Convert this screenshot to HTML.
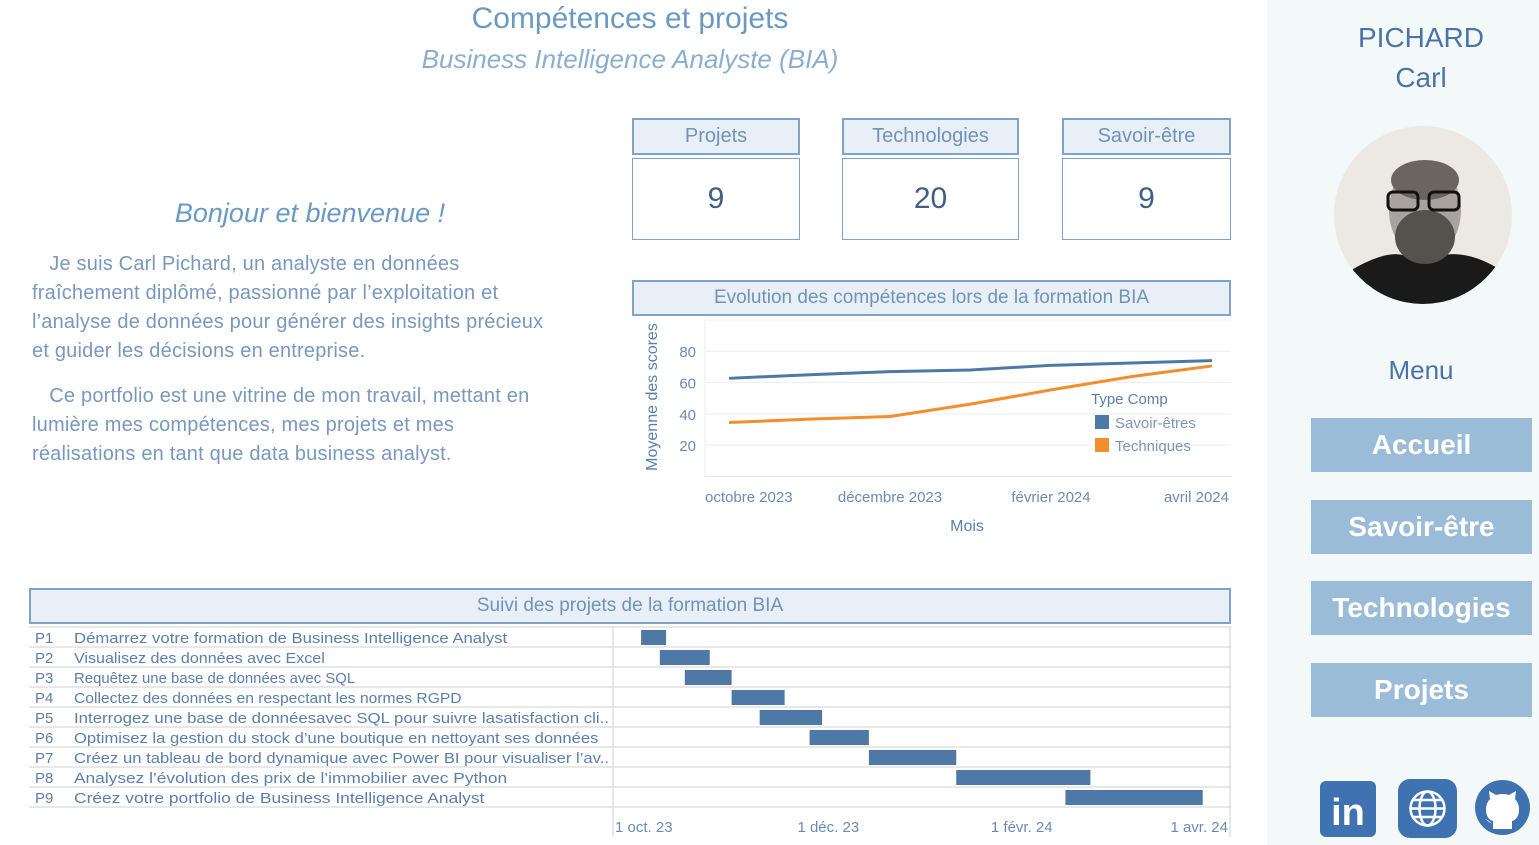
<!DOCTYPE html>
<html><head><meta charset="utf-8"><style>
*{margin:0;padding:0;box-sizing:border-box}
body{width:1539px;height:845px;background:#fff;font-family:"Liberation Sans",sans-serif;position:relative;overflow:hidden;color:#5a7fab}
.abs{position:absolute}
.kh{position:absolute;background:#e8eff6;border:2px solid #7fa3c8;color:#6f93ba;font-size:20px;text-align:center;line-height:32px}
.kv{position:absolute;border:1px solid #7fa3c8;font-size:30px;color:#3f5f86;text-align:center;line-height:80px}
.btn{position:absolute;left:1311px;width:221px;height:54px;background:#9bbcd8;color:#fff;font-weight:bold;font-size:28px;text-align:center;line-height:54px}
p.t{font-size:20px;line-height:29px;color:#7898bd;white-space:nowrap;letter-spacing:0.2px}
</style></head><body>
<div class="abs" style="left:0;width:1260px;top:2px;text-align:center;font-size:30px;color:#6a9ac4">Compétences et projets</div>
<div class="abs" style="left:0;width:1260px;top:44px;text-align:center;font-size:26px;font-style:italic;color:#8aaed0">Business Intelligence  Analyste (BIA)</div>

<div class="abs" style="left:30px;width:560px;top:198px;text-align:center;font-size:27px;font-style:italic;color:#6a9ac4">Bonjour et bienvenue !</div>
<div class="abs" style="left:32px;top:250px;width:560px">
<p class="t">&nbsp;&nbsp;&nbsp;Je suis Carl Pichard, un analyste en données<br>fraîchement diplômé, passionné par l’exploitation et<br>l’analyse de données pour générer des insights précieux<br>et guider les décisions en entreprise.</p>
<p class="t" style="margin-top:16px">&nbsp;&nbsp;&nbsp;Ce portfolio est une vitrine de mon travail, mettant en<br>lumière mes compétences, mes projets et mes<br>réalisations en tant que data business analyst.</p>
</div>

<div class="kh" style="left:632px;top:118px;width:168px;height:37px">Projets</div>
<div class="kv" style="left:632px;top:158px;width:168px;height:82px">9</div>
<div class="kh" style="left:842px;top:118px;width:177px;height:37px">Technologies</div>
<div class="kv" style="left:842px;top:158px;width:177px;height:82px">20</div>
<div class="kh" style="left:1062px;top:118px;width:169px;height:37px">Savoir-être</div>
<div class="kv" style="left:1062px;top:158px;width:169px;height:82px">9</div>

<div class="kh" style="left:632px;top:280px;width:599px;height:36px;line-height:32px;font-size:19px">Evolution des compétences lors de la formation BIA</div>
<svg class="abs" id="lc" style="left:0;top:0" width="1260" height="845"></svg>

<div class="kh" style="left:29px;top:588px;width:1202px;height:36px;line-height:32px;font-size:19px">Suivi des projets de la formation BIA</div>
<svg class="abs" id="gc" style="left:0;top:0" width="1260" height="845"></svg>

<div class="abs" style="left:1267px;top:0;width:272px;height:845px;background:#f3f8f9"></div>
<div class="abs" style="left:1310px;width:222px;top:18px;text-align:center;font-size:28px;line-height:40px;color:#4a74a8">PICHARD<br>Carl</div>
<svg class="abs" style="left:1333px;top:125px" width="180" height="180">
<defs><clipPath id="cp"><circle cx="90" cy="90" r="89"/></clipPath></defs>
<g clip-path="url(#cp)"><rect width="180" height="180" fill="#ece8e4"/>
<path d="M0 180 L10 150 Q50 125 70 130 L110 130 Q140 125 175 150 L180 180Z" fill="#1a1a1a"/>
<ellipse cx="92" cy="85" rx="36" ry="48" fill="#a8a39e"/>
<ellipse cx="92" cy="112" rx="30" ry="27" fill="#55514d"/>
<ellipse cx="92" cy="55" rx="34" ry="20" fill="#6a6560"/>
<rect x="55" y="67" width="30" height="18" rx="5" fill="none" stroke="#111" stroke-width="3"/>
<rect x="96" y="67" width="30" height="18" rx="5" fill="none" stroke="#111" stroke-width="3"/></g></svg>
<div class="abs" style="left:1310px;width:222px;top:355px;text-align:center;font-size:26px;color:#4a74a8">Menu</div>
<div class="btn" style="top:418px">Accueil</div>
<div class="btn" style="top:500px">Savoir-être</div>
<div class="btn" style="top:581px">Technologies</div>
<div class="btn" style="top:663px">Projets</div>
<svg class="abs" style="left:1320px;top:781px" width="56" height="56"><rect width="56" height="56" rx="6" fill="#3f72b0"/><text x="28" y="44" text-anchor="middle" font-family="Liberation Sans" font-weight="bold" font-size="38" fill="#fff">in</text></svg>
<svg class="abs" style="left:1398px;top:779px" width="59" height="59"><rect width="59" height="59" rx="12" fill="#3f72b0"/><g fill="none" stroke="#fff" stroke-width="2.5"><circle cx="29.5" cy="29.5" r="17"/><ellipse cx="29.5" cy="29.5" rx="8" ry="17"/><line x1="12.5" y1="29.5" x2="46.5" y2="29.5"/><line x1="15" y1="21" x2="44" y2="21"/><line x1="15" y1="38" x2="44" y2="38"/></g></svg>
<svg class="abs" style="left:1474px;top:779px" width="57" height="57"><circle cx="28.5" cy="28.5" r="27.5" fill="#3f72b0"/><path d="M19 50 L19 42 Q12 40 12 30 Q12 24 16 20 L15 12 L22 16 Q28.5 14 35 16 L42 12 L41 20 Q45 24 45 30 Q45 40 38 42 L38 50 Z M11 40 Q15 41 18 45" fill="#fff"/></svg>

<script>
// line chart data
const months=["octobre 2023","novembre 2023","décembre 2023","janvier 2024","février 2024","mars 2024","avril 2024"];
const savoirEtres=[62.7,65,67,68,71,72.5,74];
const techniques=[34.5,36.6,38.3,46.2,55.3,63.8,70.6];
const yTicks=[20,40,60,80];
const xTickLabels=["octobre 2023","décembre 2023","février 2024","avril 2024"];
const xTickIdx=[0,2,4,6];
// gantt data (days since 1 Oct 2023)
const projCodes=["P1","P2","P3","P4","P5","P6","P7","P8","P9"];
const projNames=["Démarrez votre formation de Business Intelligence Analyst","Visualisez des données avec Excel","Requêtez une base de données avec SQL","Collectez des données en respectant les normes RGPD","Interrogez une base de donnéesavec SQL pour suivre lasatisfaction cli..","Optimisez la gestion du stock d’une boutique en nettoyant ses données","Créez un tableau de bord dynamique avec Power BI pour visualiser l’av..","Analysez l’évolution des prix de l’immobilier avec Python","Créez votre portfolio de Business Intelligence Analyst"];
const projStart=[1,7,15,30,39,55,74,102,137];
const projEnd=[9,23,30,47,59,74,102,145,181];
const gTickLabels=["1 oct. 23","1 déc. 23","1 févr. 24","1 avr. 24"];
const gTickDays=[0,61,123,183];

const NS="http://www.w3.org/2000/svg";
function mk(svg,tag,attrs,txt){const e=document.createElementNS(NS,tag);for(const k in attrs)e.setAttribute(k,attrs[k]);if(txt!==undefined)e.textContent=txt;svg.appendChild(e);return e;}
// line chart
const lc=document.getElementById('lc');
const lx=i=>729+i*(1212-729)/(months.length-1);
const ly=v=>476.5-v*1.566;
yTicks.forEach(t=>{const g=mk(lc,'line',{x1:705,x2:1231,y1:ly(t),y2:ly(t),stroke:'#eeeeee'});

const l=mk(lc,'text',{x:696,y:ly(t)+6,'text-anchor':'end','font-size':15,fill:'#6a8bb3'},t);
});
mk(lc,'line',{x1:705,x2:1231,y1:476.5,y2:476.5,stroke:'#e6e6e6'});
mk(lc,'line',{x1:705,x2:1231,y1:320,y2:320,stroke:'#f0f0f0'});
mk(lc,'line',{x1:705,x2:705,y1:320,y2:477,stroke:'#eeeeee'});
xTickIdx.forEach((ix,j)=>{const last=j==xTickIdx.length-1;
const l=mk(lc,'text',{x:j==0?705:(last?1229:lx(ix)),y:502,'text-anchor':j==0?'start':(last?'end':'middle'),'font-size':15,fill:'#6a8bb3'},xTickLabels[j]);
});
const ya=mk(lc,'text',{x:0,y:0,transform:'translate(657,397) rotate(-90)','text-anchor':'middle','font-size':16,fill:'#5a7fab'},'Moyenne des scores');

const xa=mk(lc,'text',{x:967,y:531,'text-anchor':'middle','font-size':16,fill:'#5a7fab'},'Mois');

[[savoirEtres,'#4e79a7','savoir-etres-line'],[techniques,'#f28e2b','techniques-line']].forEach(([d,c,n])=>{
const p=mk(lc,'path',{d:d.map((v,i)=>(i?'L':'M')+lx(i)+' '+ly(v)).join(''),fill:'none',stroke:c,'stroke-width':3});
});
const lt=mk(lc,'text',{x:1091,y:404,'font-size':15,fill:'#5a7fab'},'Type Comp');

[['Savoir-êtres','#4e79a7',415],['Techniques','#f28e2b',438]].forEach(([t,c,y])=>{
const r=mk(lc,'rect',{x:1095,y:y,width:14,height:14,fill:c});
const l=mk(lc,'text',{x:1115,y:y+13,'font-size':15,fill:'#7a96b8'},t);});
// gantt
const gc=document.getElementById('gc');
const gx=d=>638+d*3.12;
const row0=627,rh=20;
projCodes.forEach((c,i)=>{const y=row0+i*rh;
mk(gc,'line',{x1:29,x2:1231,y1:y+rh,y2:y+rh,stroke:'#d0d0d0'});
const a=mk(gc,'text',{x:35,y:y+16,'font-size':15,fill:'#5a7fab'},c);
const b=mk(gc,'text',{x:74,y:y+16,'font-size':15,fill:'#5a7fab',textLength:Math.min(535,projNames[i].length*7.6),lengthAdjust:'spacingAndGlyphs'},projNames[i]);
const r=mk(gc,'rect',{x:gx(projStart[i]),y:y+3,width:gx(projEnd[i])-gx(projStart[i]),height:15,fill:'#4e79a7'});
});
mk(gc,'line',{x1:29,x2:1231,y1:row0,y2:row0,stroke:'#d0d0d0'});
mk(gc,'line',{x1:613,x2:613,y1:row0,y2:837,stroke:'#d0d0d0'});
mk(gc,'line',{x1:1230,x2:1230,y1:row0,y2:837,stroke:'#d0d0d0'});
gTickDays.forEach((d,j)=>{const last=j==gTickDays.length-1;
const l=mk(gc,'text',{x:j==0?615:(last?1228:gx(d)),y:832,'text-anchor':j==0?'start':(last?'end':'middle'),'font-size':15,fill:'#6a8bb3'},gTickLabels[j]);
});
</script>
</body></html>
